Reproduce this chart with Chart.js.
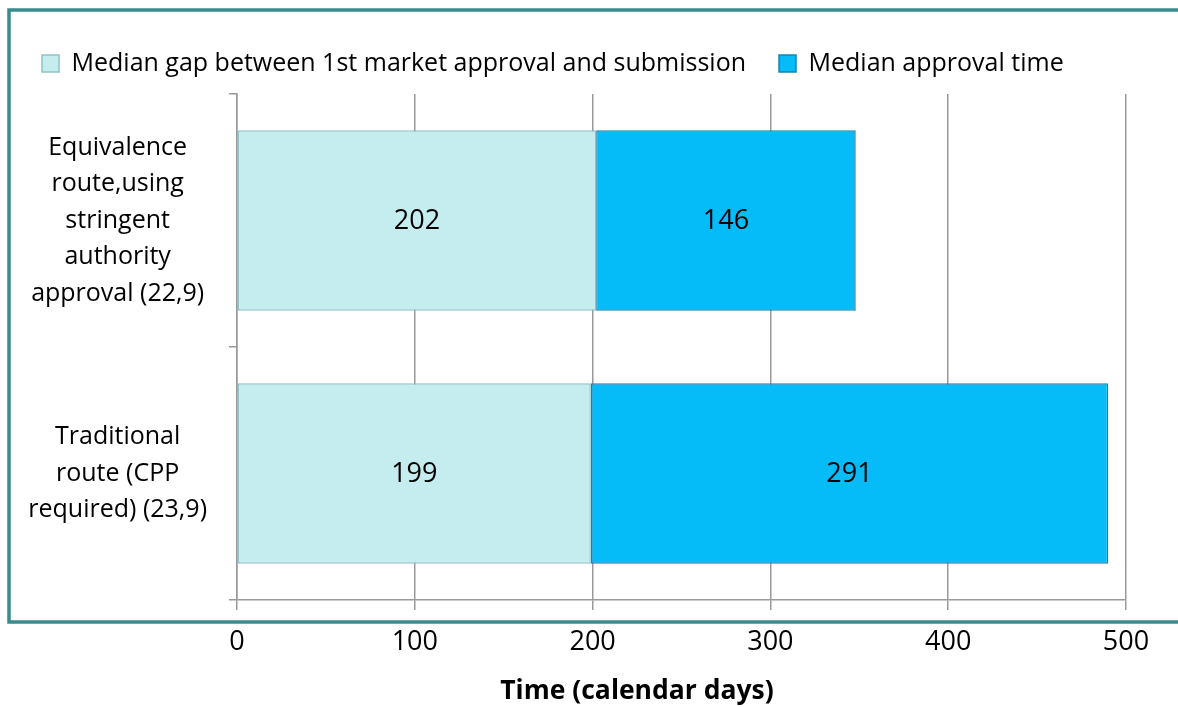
<!DOCTYPE html>
<html>
<head>
<meta charset="utf-8">
<script src="https://cdn.jsdelivr.net/npm/chart.js@4.4.1/dist/chart.umd.min.js"></script>
<style>
html,body{margin:0;padding:0;background:#fff;}
#wrap{width:1178px;height:707px;position:relative;}
</style>
</head>
<body>
<div id="wrap"><canvas id="c" width="1178" height="707"></canvas></div>
<script>
const categories = [
  ['Equivalence', 'route,using', 'stringent', 'authority', 'approval (22,9)'],
  ['Traditional', 'route (CPP', 'required) (23,9)']
];
const seriesNames = ['Median gap between 1st market approval and submission', 'Median approval time'];
const gapValues = [202, 199];
const approvalValues = [146, 291];
const xAxisTitle = 'Time (calendar days)';
const xMin = 0, xMax = 500, xStep = 100;

const FONT = '"Open Sans", Lato, sans-serif';
const FS = 25;

const frame = {
  id: 'frame',
  afterDraw(chart) {
    const ctx = chart.ctx;
    ctx.save();
    ctx.strokeStyle = '#3A8B8D';
    ctx.lineWidth = 3.5;
    ctx.strokeRect(9, 10, 1200, 612);
    ctx.restore();
  }
};

const valueLabels = {
  id: 'valueLabels',
  afterDatasetsDraw(chart) {
    const ctx = chart.ctx;
    ctx.save();
    ctx.font = '27px ' + FONT;
    ctx.fillStyle = '#000';
    ctx.textAlign = 'center';
    ctx.textBaseline = 'middle';
    chart.data.datasets.forEach((ds, di) => {
      const meta = chart.getDatasetMeta(di);
      meta.data.forEach((bar, i) => {
        const p = bar.getProps(['x', 'y', 'base'], true);
        ctx.fillText(String(ds.data[i]), (p.x + p.base) / 2, p.y + 1);
      });
    });
    ctx.restore();
  }
};

const axisTitle = {
  id: 'axisTitle',
  afterDraw(chart) {
    const ctx = chart.ctx;
    ctx.save();
    ctx.font = 'bold 26.5px ' + FONT;
    ctx.fillStyle = '#000';
    ctx.textAlign = 'center';
    ctx.textBaseline = 'middle';
    ctx.fillText(xAxisTitle, 637, 691);
    ctx.restore();
  }
};

new Chart(document.getElementById('c'), {
  type: 'bar',
  data: {
    labels: categories,
    datasets: [
      {
        label: seriesNames[0],
        data: gapValues,
        backgroundColor: '#C5ECEF',
        borderColor: '#8FC3C8',
        borderWidth: 1.5,
        borderSkipped: false
      },
      {
        label: seriesNames[1],
        data: approvalValues,
        backgroundColor: '#06BCF8',
        borderColor: '#1285AE',
        borderWidth: 1.5,
        borderSkipped: false
      }
    ]
  },
  options: {
    indexAxis: 'y',
    responsive: false,
    animation: false,
    events: [],
    layout: { padding: { top: 18, left: 9, right: 52, bottom: 0 } },
    datasets: { bar: { categoryPercentage: 1.0, barPercentage: 0.713 } },
    plugins: {
      tooltip: { enabled: false },
      legend: {
        display: true,
        position: 'top',
        align: 'start',
        labels: {
          font: { family: FONT, size: FS },
          color: '#000',
          boxWidth: 17,
          boxHeight: 17,
          padding: 33
        }
      },
      subtitle: {
        display: true,
        text: '',
        weight: 500,
        padding: 0,
        font: { size: 8, lineHeight: 1.0 }
      }
    },
    scales: {
      x: {
        stacked: true,
        min: xMin,
        max: xMax,
        ticks: {
          stepSize: xStep,
          color: '#000',
          font: { family: FONT, size: 27 },
          padding: 16,
          maxRotation: 0
        },
        grid: {
          color: '#999',
          lineWidth: 1.5,
          tickLength: 10,
          drawTicks: true
        },
        border: { display: true, color: '#999', width: 1.5 },
        afterFit(scale) { scale.height = 107; }
      },
      y: {
        stacked: true,
        ticks: {
          color: '#000',
          font: { family: FONT, size: FS, lineHeight: 1.46 },
          padding: 22,
          crossAlign: 'center'
        },
        grid: {
          drawOnChartArea: false,
          drawTicks: true,
          tickLength: 8,
          color: '#999',
          lineWidth: 1.5
        },
        border: { display: true, color: '#999', width: 1.5 },
        afterFit(scale) {
          scale.width = 228;
          scale.paddingTop = 0;
          scale.paddingBottom = 0;
        }
      }
    }
  },
  plugins: [frame, valueLabels, axisTitle]
});
</script>
</body>
</html>
